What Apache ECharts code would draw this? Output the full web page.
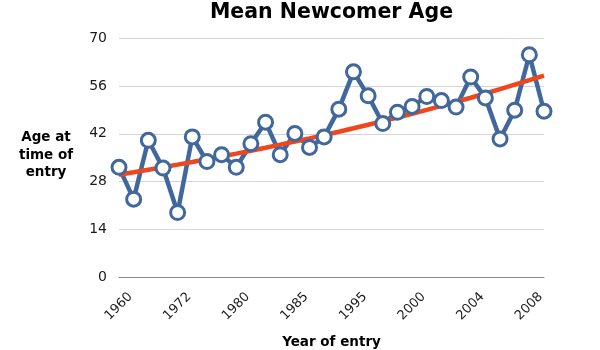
<!DOCTYPE html>
<html>
<head>
<meta charset="utf-8">
<script src="https://cdn.jsdelivr.net/npm/echarts@6/dist/echarts.min.js"></script>
<style>
  html, body { margin: 0; padding: 0; background: #ffffff; }
  #chart { width: 600px; height: 350px; }
</style>
</head>
<body>
<div id="chart"></div>
<script>
// Entry-year categories; only every fourth year carries a printed label.
const years = ['', '1960', '', '', '', '1972', '', '', '', '1980', '', '', '', '1985', '', '',
               '', '1995', '', '', '', '2000', '', '', '', '2004', '', '', '', '2008'];

// Mean age at time of entry for each newcomer cohort.
const meanAge = [32.2, 22.9, 40.1, 32.0, 19.0, 41.1, 33.9, 35.9, 32.2, 39.1,
                 45.4, 35.9, 42.1, 38.0, 41.1, 49.2, 60.1, 53.1, 45.0, 48.3,
                 50.0, 52.9, 51.7, 49.8, 58.6, 52.5, 40.5, 48.9, 65.1, 48.6];

// Value-axis ticks.
const ageTicks = [0, 14, 28, 42, 56, 70];

// Exponential trendline: least-squares fit of ln(age) against position.
function expTrend(values) {
  const n = values.length;
  const xs = values.map((_, i) => i);
  const ls = values.map(v => Math.log(v));
  const mx = xs.reduce((a, b) => a + b, 0) / n;
  const ml = ls.reduce((a, b) => a + b, 0) / n;
  let sxy = 0, sxx = 0;
  for (let i = 0; i < n; i++) {
    sxy += (xs[i] - mx) * (ls[i] - ml);
    sxx += (xs[i] - mx) * (xs[i] - mx);
  }
  const b = sxy / sxx;
  const a = ml - b * mx;
  return xs.map(x => +Math.exp(a + b * x).toFixed(3));
}
const trend = expTrend(meanAge);

const FONT = '"DejaVu Sans", Verdana, sans-serif';
const BLUE = '#41689c';
const RED = '#f0461e';

const chart = echarts.init(document.getElementById('chart'), null, { renderer: 'canvas' });
chart.setOption({
  animation: false,
  backgroundColor: '#ffffff',
  title: {
    text: 'Mean Newcomer Age',
    left: 331.5, top: 2, padding: 0, textAlign: 'center',
    textStyle: { fontFamily: FONT, fontSize: 20.5, fontWeight: 'bold', color: '#000000' }
  },
  graphic: [{
    type: 'text',
    x: 46, y: 129,
    style: {
      text: 'Age at\ntime of\nentry',
      fontFamily: FONT, fontSize: 13.5, fontWeight: 'bold', fill: '#000000',
      align: 'center', verticalAlign: 'top', lineHeight: 17.5
    }
  }],
  grid: { left: 119, right: 56, top: 38, bottom: 72.5, containLabel: false, outerBoundsMode: 'none' },
  xAxis: {
    type: 'category',
    data: years,
    boundaryGap: false,
    name: 'Year of entry',
    nameLocation: 'middle',
    nameGap: 58,
    nameTextStyle: { fontFamily: FONT, fontSize: 13.5, fontWeight: 'bold', color: '#000000' },
    axisLine: { lineStyle: { color: '#8c8c8c', width: 1 } },
    axisTick: { show: false },
    splitLine: { show: false },
    axisLabel: {
      interval: 0, rotate: 45, margin: 14, padding: [0, 4.5, 0, 0],
      fontFamily: FONT, fontSize: 13, color: '#1a1a1a'
    }
  },
  yAxis: {
    type: 'value',
    min: ageTicks[0], max: ageTicks[ageTicks.length - 1], interval: ageTicks[1] - ageTicks[0],
    axisLine: { show: false },
    axisTick: { show: false },
    splitLine: { lineStyle: { color: '#d4d4d4', width: 1 } },
    axisLabel: { margin: 12, fontFamily: FONT, fontSize: 14, color: '#1a1a1a' }
  },
  series: [
    {
      name: 'Mean age',
      type: 'line',
      data: meanAge,
      showSymbol: false,
      lineStyle: { color: BLUE, width: 4.5 },
      z: 2
    },
    {
      name: 'Trend',
      type: 'line',
      data: trend,
      showSymbol: false,
      smooth: false,
      lineStyle: { color: RED, width: 4.5 },
      z: 3
    },
    {
      name: 'Mean age markers',
      type: 'scatter',
      data: meanAge,
      symbol: 'circle',
      symbolSize: 14,
      itemStyle: { color: '#ffffff', borderColor: BLUE, borderWidth: 3, opacity: 1 },
      z: 4
    }
  ]
});
</script>
</body>
</html>
